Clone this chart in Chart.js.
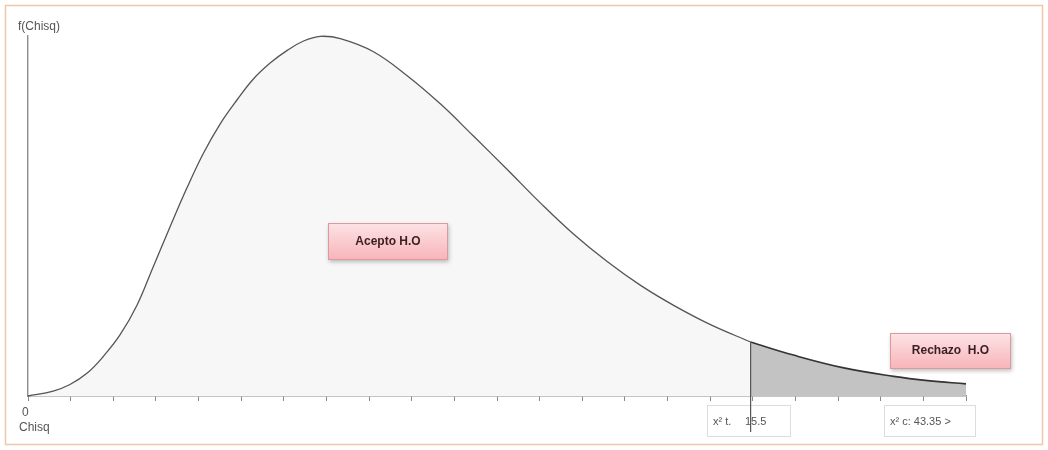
<!DOCTYPE html>
<html>
<head>
<meta charset="utf-8">
<script src="https://cdn.jsdelivr.net/npm/chart.js@4/dist/chart.umd.min.js"></script>
<style>
  html, body { margin: 0; padding: 0; background: #fff; }
  #wrap { width: 1048px; height: 450px; }
</style>
</head>
<body>
<div id="wrap"><canvas id="chi-chart" width="1048" height="450"></canvas></div>
<script>
// curve (x = Chisq, y = f(Chisq))
const acceptX = [0, 0.54, 0.90, 1.27, 1.61, 1.98, 2.34, 2.68, 3.05, 3.41, 3.76, 4.12, 4.49, 4.83, 5.20, 5.56, 5.90, 6.27, 6.70, 7.41, 8.14, 8.85, 9.55, 10.28, 10.99, 11.70, 12.43, 13.14, 13.85, 14.64, 15.5];
const acceptY = [0, 0.0015, 0.0035, 0.0070, 0.0120, 0.0188, 0.0278, 0.0393, 0.0518, 0.0636, 0.0741, 0.0831, 0.0906, 0.0968, 0.1018, 0.1056, 0.1084, 0.1099, 0.1092, 0.1052, 0.0978, 0.0892, 0.0795, 0.0692, 0.0590, 0.0495, 0.0410, 0.0338, 0.0277, 0.0218, 0.0165];
const rejectX = [15.5, 16.42, 17.50, 18.57, 19.30, 20.12];
const rejectY = [0.0165, 0.0125, 0.0086, 0.0060, 0.0047, 0.0037];

const chiTabla = 15.5;
const xMax = 20.12;
const tickCount = 23;
const tickLabels = ["0"];

const textTabla = "x\u00b2 t.";
const valueTabla = "15.5";
const textCalc = "x\u00b2 c: 43.35 >";
const labelAccept = "Acepto H.O";
const labelReject = "Rechazo  H.O";

const toPoints = (xs, ys) => xs.map((x, i) => ({ x: x, y: ys[i] }));

function pinkBox(ctx, x, y, w, h, text) {
  ctx.save();
  ctx.shadowColor = "rgba(0,0,0,0.25)";
  ctx.shadowBlur = 4;
  ctx.shadowOffsetX = 1;
  ctx.shadowOffsetY = 2;
  const g = ctx.createLinearGradient(0, y, 0, y + h);
  g.addColorStop(0, "#fde3e5");
  g.addColorStop(1, "#f7b4b9");
  ctx.fillStyle = g;
  ctx.fillRect(x, y, w, h);
  ctx.restore();
  ctx.strokeStyle = "#d99aa0";
  ctx.lineWidth = 1;
  ctx.strokeRect(x + 0.5, y + 0.5, w - 1, h - 1);
  ctx.fillStyle = "#3a1f22";
  ctx.font = "bold 12px 'Liberation Sans', Arial, sans-serif";
  ctx.textAlign = "center";
  ctx.textBaseline = "middle";
  ctx.fillText(text, x + w / 2, y + h / 2);
}

function grayBox(ctx, x, y, w, h) {
  ctx.fillStyle = "#fff";
  ctx.fillRect(x, y, w, h);
  ctx.strokeStyle = "#dcdcdc";
  ctx.lineWidth = 1;
  ctx.strokeRect(x + 0.5, y + 0.5, w - 1, h - 1);
}

const decorPlugin = {
  id: "decor",
  beforeDraw(chart) {
    const ctx = chart.ctx;
    ctx.save();
    ctx.fillStyle = "#fff";
    ctx.fillRect(0, 0, chart.width, chart.height);
    ctx.strokeStyle = "#f2c6a8";
    ctx.lineWidth = 1.5;
    ctx.strokeRect(5.5, 5.5, chart.width - 11, chart.height - 11);
    ctx.restore();
  },
  afterDraw(chart) {
    const ctx = chart.ctx;
    const xs = chart.scales.x;
    const ys = chart.scales.y;
    ctx.save();

    // boxes under the axis
    grayBox(ctx, 707, 405, 84, 32);
    grayBox(ctx, 884, 405, 92, 32);

    // critical value line
    const xc = xs.getPixelForValue(chiTabla);
    ctx.strokeStyle = "#555";
    ctx.lineWidth = 1.2;
    ctx.beginPath();
    ctx.moveTo(xc, ys.getPixelForValue(rejectY[0]));
    ctx.lineTo(xc, 432);
    ctx.stroke();

    ctx.fillStyle = "#555";
    ctx.font = "11px 'Liberation Sans', Arial, sans-serif";
    ctx.textBaseline = "middle";
    ctx.textAlign = "left";
    ctx.fillText(textTabla, 713, 422);
    ctx.fillText(valueTabla, 745, 422);
    ctx.fillText(textCalc, 890, 422);

    // axis texts
    ctx.font = "12px 'Liberation Sans', Arial, sans-serif";
    ctx.fillText("f(Chisq)", 18, 27);
    ctx.fillText(tickLabels[0], 22, 413);
    ctx.fillText("Chisq", 19, 428);

    pinkBox(ctx, 328, 223, 120, 37, labelAccept);
    pinkBox(ctx, 890, 333, 121, 36, labelReject);
    ctx.restore();
  }
};

new Chart(document.getElementById("chi-chart"), {
  type: "line",
  data: {
    datasets: [
      {
        label: "Acepto",
        data: toPoints(acceptX, acceptY),
        borderColor: "#555",
        borderWidth: 1.3,
        backgroundColor: "#f7f7f7",
        fill: "origin",
        pointRadius: 0,
        tension: 0.4,
        clip: false,
      },
      {
        label: "Rechazo",
        data: toPoints(rejectX, rejectY),
        borderColor: "#333",
        borderWidth: 1.6,
        backgroundColor: "#c3c3c3",
        fill: "origin",
        pointRadius: 0,
        tension: 0.4,
        clip: false,
      },
    ],
  },
  options: {
    responsive: false,
    animation: false,
    devicePixelRatio: 1,
    layout: { padding: { left: 28, right: 82, top: 36, bottom: 49 } },
    plugins: { legend: { display: false }, tooltip: { enabled: false } },
    scales: {
      x: {
        type: "linear",
        min: 0,
        max: xMax,
        afterBuildTicks: (axis) => {
          const t = [];
          for (let i = 0; i < tickCount; i++) t.push({ value: (xMax * i) / (tickCount - 1) });
          axis.ticks = t;
        },
        grid: { drawOnChartArea: false, drawTicks: true, tickLength: 5, color: "#888" },
        border: { display: true, color: "#8c8c8c", width: 1.6 },
        ticks: { display: false },
      },
      y: {
        min: 0,
        max: 0.11,
        grid: { display: false, drawTicks: false, tickLength: 0 },
        border: { display: true, color: "#8c8c8c", width: 1.4 },
        ticks: { display: false },
      },
    },
  },
  plugins: [decorPlugin],
});
</script>
</body>
</html>
